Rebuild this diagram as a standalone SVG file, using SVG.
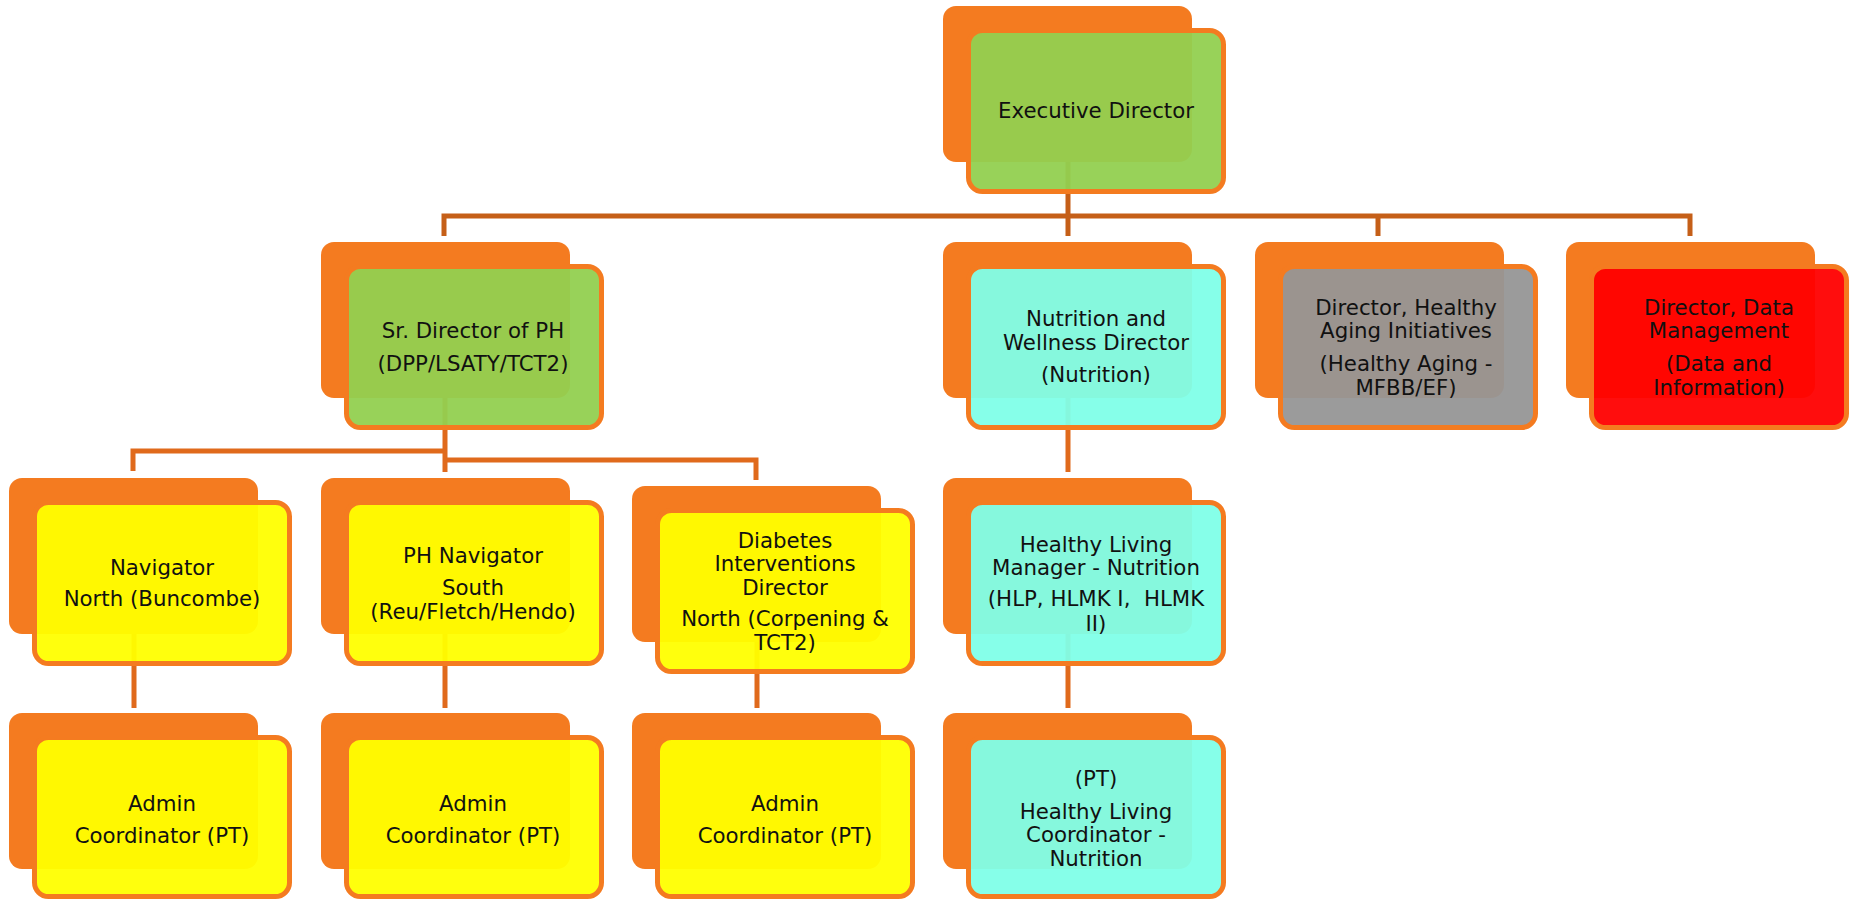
<svg xmlns="http://www.w3.org/2000/svg" width="1853" height="900" viewBox="0 0 1853 900">
<style>
.back{fill:#f47b20}
.front{stroke:#f47b20;stroke-width:5;fill-opacity:0.95}
.g{fill:#92d050}.c{fill:#80ffe8}.y{fill:#ffff00}.gr{fill:#969696}.r{fill:#ff0000}
.conn{fill:none;stroke:#e06a1c;stroke-width:5;stroke-linejoin:miter;stroke-linecap:butt}
.top{stroke:#c55f18}
text{font-family:"DejaVu Sans","Verdana",sans-serif;font-size:21.3px;fill:#111;text-anchor:middle}
</style>
<rect width="1853" height="900" fill="#fff"/>
<g id="connectors">
<path class="conn top" d="M1068 100V236M444 236V216H1690V236M1378 216V236"/>
<path class="conn" d="M445 320V472M133 471V451H445M445 460H756V480"/>
<path class="conn" d="M1068 320V472"/>
<path class="conn" d="M134 555V708M445 555V708M757 560V708M1068 555V708"/>
</g>
<g id="exec">
<rect class="back" x="943" y="6" width="249" height="156" rx="13"/>
<rect class="front g" x="968.5" y="30.5" width="255" height="161" rx="14"/>
<text x="1096" y="118">Executive Director</text>
</g>
<g id="sr-director">
<rect class="back" x="321" y="242" width="249" height="156" rx="13"/>
<rect class="front g" x="346.5" y="266.5" width="255" height="161" rx="14"/>
<text x="473" y="338">Sr. Director of PH</text>
<text x="473" y="371">(DPP/LSATY/TCT2)</text>
</g>
<g id="nutrition-director">
<rect class="back" x="943" y="242" width="249" height="156" rx="13"/>
<rect class="front c" x="968.5" y="266.5" width="255" height="161" rx="14"/>
<text x="1096" y="326">Nutrition and</text>
<text x="1096" y="350">Wellness Director</text>
<text x="1096" y="382">(Nutrition)</text>
</g>
<g id="healthy-aging">
<rect class="back" x="1255" y="242" width="249" height="156" rx="13"/>
<rect class="front gr" x="1280.5" y="266.5" width="255" height="161" rx="14"/>
<text x="1406" y="315">Director, Healthy</text>
<text x="1406" y="338">Aging Initiatives</text>
<text x="1406" y="371">(Healthy Aging -</text>
<text x="1406" y="395">MFBB/EF)</text>
</g>
<g id="data-management">
<rect class="back" x="1566" y="242" width="249" height="156" rx="13"/>
<rect class="front r" x="1591.5" y="266.5" width="255" height="161" rx="14"/>
<text x="1719" y="315">Director, Data</text>
<text x="1719" y="338">Management</text>
<text x="1719" y="371">(Data and</text>
<text x="1719" y="395">Information)</text>
</g>
<g id="navigator-north">
<rect class="back" x="9" y="478" width="249" height="156" rx="13"/>
<rect class="front y" x="34.5" y="502.5" width="255" height="161" rx="14"/>
<text x="162" y="575">Navigator</text>
<text x="162" y="606">North (Buncombe)</text>
</g>
<g id="ph-navigator-south">
<rect class="back" x="321" y="478" width="249" height="156" rx="13"/>
<rect class="front y" x="346.5" y="502.5" width="255" height="161" rx="14"/>
<text x="473" y="563">PH Navigator</text>
<text x="473" y="595">South</text>
<text x="473" y="619">(Reu/Fletch/Hendo)</text>
</g>
<g id="diabetes-director">
<rect class="back" x="632" y="486" width="249" height="156" rx="13"/>
<rect class="front y" x="657.5" y="510.5" width="255" height="161" rx="14"/>
<text x="785" y="548">Diabetes</text>
<text x="785" y="571">Interventions</text>
<text x="785" y="595">Director</text>
<text x="785" y="626">North (Corpening &amp;</text>
<text x="785" y="650">TCT2)</text>
</g>
<g id="hl-manager">
<rect class="back" x="943" y="478" width="249" height="156" rx="13"/>
<rect class="front c" x="968.5" y="502.5" width="255" height="161" rx="14"/>
<text x="1096" y="552">Healthy Living</text>
<text x="1096" y="575">Manager - Nutrition</text>
<text x="1096" y="606">(HLP, HLMK I,&#160; HLMK</text>
<text x="1096" y="631">II)</text>
</g>
<g id="admin-1">
<rect class="back" x="9" y="713" width="249" height="156" rx="13"/>
<rect class="front y" x="34.5" y="737.5" width="255" height="159" rx="14"/>
<text x="162" y="811">Admin</text>
<text x="162" y="843">Coordinator (PT)</text>
</g>
<g id="admin-2">
<rect class="back" x="321" y="713" width="249" height="156" rx="13"/>
<rect class="front y" x="346.5" y="737.5" width="255" height="159" rx="14"/>
<text x="473" y="811">Admin</text>
<text x="473" y="843">Coordinator (PT)</text>
</g>
<g id="admin-3">
<rect class="back" x="632" y="713" width="249" height="156" rx="13"/>
<rect class="front y" x="657.5" y="737.5" width="255" height="159" rx="14"/>
<text x="785" y="811">Admin</text>
<text x="785" y="843">Coordinator (PT)</text>
</g>
<g id="hl-coordinator">
<rect class="back" x="943" y="713" width="249" height="156" rx="13"/>
<rect class="front c" x="968.5" y="737.5" width="255" height="159" rx="14"/>
<text x="1096" y="786">(PT)</text>
<text x="1096" y="819">Healthy Living</text>
<text x="1096" y="842">Coordinator -</text>
<text x="1096" y="866">Nutrition</text>
</g>
</svg>
